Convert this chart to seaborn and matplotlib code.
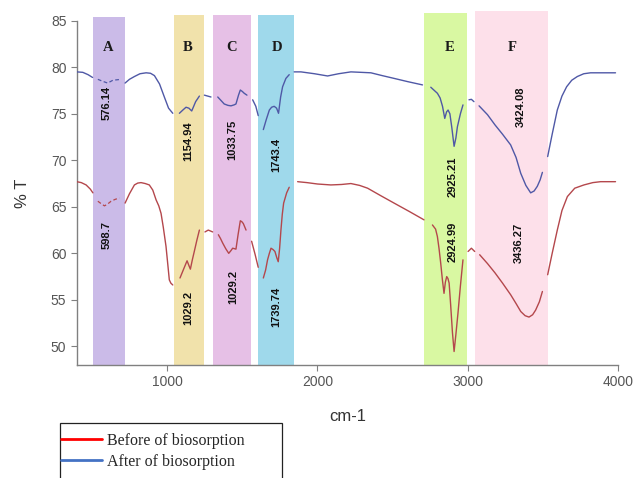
import numpy as np
import pandas as pd
import matplotlib
matplotlib.use("Agg")
import matplotlib.pyplot as plt
from matplotlib.lines import Line2D
from matplotlib.patches import Rectangle
import seaborn as sns

# -------------------- Data --------------------
nan = np.nan

# After biosorption (blue trace); nan marks a break in the trace
after_wn = [400, 440, 475, 505, nan,
            540, 570, 605, 640, 695, nan,
            721, 750, 783, 820, 861, 890, 916, 950, 982, 1010, 1038, nan,
            1082, 1105, 1126, 1145, 1164, 1190, 1215, nan,
            1248, 1270, 1292, nan,
            1337, 1360, 1380, 1405, 1425, 1445, 1458, 1475, 1487, 1500, 1513, 1531, nan,
            1569, 1590, 1606, nan,
            1640, 1660, 1680, 1695, 1712, 1728, 1741, 1755, 1768, 1790, 1812, nan,
            1845, 1890, 1980, 2067, 2140, 2222, 2290, 2355, 2430, 2509, 2600, 2698, nan,
            2753, 2797, 2815, 2831, 2846, 2858, 2868, 2880, 2893, 2908, 2920, 2930, 2950, 2967, nan,
            3007, 3023, 3040, nan,
            3074, 3130, 3180, 3230, 3284, 3320, 3351, 3385, 3417, 3440, 3461, 3480, 3495, nan,
            3530, 3560, 3594, 3625, 3656, 3690, 3727, 3770, 3815, 3900, 3981]
after_t = [79.5, 79.45, 79.2, 78.9, nan,
           78.7, 78.5, 78.3, 78.6, 78.7, nan,
           78.3, 78.7, 79.0, 79.3, 79.4, 79.35, 79.1, 78.2, 76.8, 75.6, 75.05, nan,
           75.05, 75.4, 75.7, 75.6, 75.3, 76.3, 76.9, nan,
           77.0, 76.9, 76.8, nan,
           76.8, 76.4, 76.05, 75.9, 75.85, 75.95, 76.05, 77.0, 77.55, 77.4, 77.2, 77.0, nan,
           76.5, 75.8, 74.8, nan,
           73.3, 74.4, 75.4, 75.7, 75.8, 75.6, 75.05, 76.8, 77.9, 78.8, 79.2, nan,
           79.5, 79.5, 79.3, 79.06, 79.3, 79.5, 79.45, 79.4, 79.1, 78.8, 78.45, 78.1, nan,
           77.85, 77.2, 76.7, 75.8, 74.5, 75.2, 75.4, 75.0, 73.5, 71.5, 72.4, 73.6, 75.0, 75.95, nan,
           76.5, 76.55, 76.3, nan,
           75.85, 74.9, 73.8, 72.8, 71.65, 70.3, 68.6, 67.3, 66.5, 66.7, 67.2, 67.9, 68.7, nan,
           70.4, 72.8, 75.4, 76.9, 77.9, 78.6, 79.0, 79.3, 79.4, 79.4, 79.4]

# Before biosorption (red trace)
before_wn = [400, 430, 462, 490, 507, nan,
             540, 565, 584, 605, 628, 655, 683, nan,
             721, 750, 783, 805, 827, 855, 882, 905, 927, 945, 960, 975, 993, 1005, 1015, 1025, 1038, nan,
             1086, 1110, 1133, 1145, 1155, 1168, 1181, 1198, 1215, nan,
             1252, 1274, 1303, nan,
             1341, 1355, 1370, 1390, 1410, 1425, 1436, 1448, 1458, 1472, 1487, 1497, 1507, 1525, nan,
             1562, 1585, 1606, nan,
             1640, 1655, 1668, 1680, 1691, 1705, 1717, 1730, 1739, 1748, 1757, 1766, 1775, 1795, 1812, nan,
             1868, 1930, 2000, 2089, 2160, 2222, 2280, 2333, 2420, 2509, 2610, 2708, nan,
             2764, 2785, 2797, 2808, 2819, 2830, 2841, 2850, 2859, 2867, 2875, 2885, 2897, 2908, 2920, 2934, 2950, 2967, nan,
             3001, 3023, 3045, nan,
             3078, 3130, 3180, 3230, 3284, 3320, 3351, 3380, 3406, 3430, 3450, 3475, 3495, nan,
             3530, 3560, 3594, 3625, 3661, 3710, 3771, 3830, 3882, 3981]
before_t = [67.7, 67.6, 67.35, 66.9, 66.5, nan,
            65.6, 65.3, 65.1, 65.3, 65.6, 65.8, 65.95, nan,
            65.4, 66.4, 67.35, 67.55, 67.6, 67.5, 67.35, 66.8, 65.75, 65.1, 64.3, 62.8, 60.75, 58.8, 57.15, 56.8, 56.6, nan,
            57.35, 58.3, 59.2, 58.7, 58.3, 59.3, 60.2, 61.4, 62.5, nan,
            62.3, 62.5, 62.3, nan,
            62.0, 61.6, 61.1, 60.5, 60.0, 60.3, 60.55, 60.5, 60.45, 62.0, 63.5, 63.4, 63.2, 62.5, nan,
            61.3, 59.9, 58.5, nan,
            57.35, 58.2, 59.3, 60.0, 60.55, 60.4, 60.2, 59.5, 59.1, 60.5, 62.5, 64.2, 65.4, 66.5, 67.1, nan,
            67.7, 67.6, 67.45, 67.35, 67.4, 67.5, 67.3, 67.0, 66.2, 65.4, 64.5, 63.6, nan,
            63.05, 62.6, 61.8, 60.5, 58.95, 57.2, 55.7, 56.9, 57.5, 57.3, 56.8, 54.5, 51.5, 49.45, 51.3, 53.6, 56.5, 59.3, nan,
            60.2, 60.55, 60.2, nan,
            59.85, 58.9, 57.9, 56.8, 55.55, 54.6, 53.75, 53.3, 53.15, 53.4, 53.9, 54.8, 55.9, nan,
            57.7, 60.0, 62.5, 64.6, 66.1, 67.0, 67.35, 67.6, 67.7, 67.7]

# Highlighted regions
band_letters = ["A", "B", "C", "D", "E", "F"]
band_start = [510, 1044, 1305, 1604, 2708, 3045]
band_end = [720, 1244, 1558, 1843, 2997, 3530]
band_top = [85.4, 85.6, 85.6, 85.6, 85.8, 86.0]
band_colors = ["#cbbbe8", "#f1e2ab", "#e6c0e6", "#9fd9eb", "#d9f8a2", "#fde0ea"]
letter_x = [608, 1139, 1432, 1730, 2875, 3295]

# Peak annotations
after_peaks = ["576.14", "1154.94", "1033.75", "1743.4", "2925.21", "3424.08"]
after_peak_x = [595, 1139, 1432, 1724, 2897, 3351]
after_peak_y = [76.2, 72.0, 72.2, 70.6, 68.25, 75.7]
before_peaks = ["598.7", "1029.2", "1029.2", "1739.74", "2924.99", "3436.27"]
before_peak_x = [595, 1139, 1438, 1724, 2897, 3339]
before_peak_y = [62.0, 54.1, 56.4, 54.3, 61.27, 61.13]

x_ticks = [1000, 2000, 3000, 4000]
y_ticks = [50, 55, 60, 65, 70, 75, 80, 85]


def to_frame(wn, t, name):
    wn = np.array(wn, dtype=float)
    seg = np.cumsum(np.isnan(wn))
    d = pd.DataFrame({"wn": wn, "T": np.array(t, dtype=float), "seg": seg})
    d = d.dropna()
    d["series"] = name
    return d


df = pd.concat([to_frame(after_wn, after_t, "after"),
                to_frame(before_wn, before_t, "before")], ignore_index=True)
# segments that sit inside band A are drawn dashed
seg_max = df.groupby(["series", "seg"])["wn"].transform("max")
seg_min = df.groupby(["series", "seg"])["wn"].transform("min")
in_a = (seg_min >= band_start[0]) & (seg_max <= band_end[0])
df["key"] = df["series"] + df["seg"].astype(str)

# -------------------- Plotting --------------------
sns.set_style("white")
plt.rcParams["font.family"] = ["Liberation Sans", "DejaVu Sans"]

fig = plt.figure(figsize=(6.41, 4.78), dpi=100)
ax = fig.add_axes([0.1198, 0.2364, 0.8449, 0.7203])

ylo, yhi = 48, 85
for s, e, top, c in zip(band_start, band_end, band_top, band_colors):
    ax.axvspan(s, e, ymin=0, ymax=(top - ylo) / (yhi - ylo), color=c, lw=0, zorder=0, clip_on=False)

palette = {"after": "#4f58a6", "before": "#b4474c"}
sns.lineplot(data=df[~in_a], x="wn", y="T", hue="series", units="key", estimator=None,
             sort=False, palette=palette, lw=1.0, legend=False, ax=ax, zorder=3)
sns.lineplot(data=df[in_a], x="wn", y="T", hue="series", units="key", estimator=None,
             sort=False, palette=palette, lw=0.9, legend=False, ax=ax, zorder=3,
             linestyle=(0, (3, 2)))

for lx, lab in zip(letter_x, band_letters):
    ax.text(lx, 82.1, lab, ha="center", va="center", fontsize=10.5, fontweight="bold",
            family=["Liberation Serif", "DejaVu Serif"], color="#1a1a1a", zorder=4)

for lab, px, py in zip(after_peaks + before_peaks, after_peak_x + before_peak_x,
                       after_peak_y + before_peak_y):
    ax.text(px, py, lab, rotation=90, ha="center", va="center", fontsize=8,
            fontweight="bold", color="#111111", zorder=4)

ax.set_xlim(400, 4000)
ax.set_ylim(ylo, yhi)
ax.set_xticks(x_ticks)
ax.set_yticks(y_ticks)
ax.tick_params(axis="both", direction="out", length=4.5, width=0.8, color="#808080",
               labelsize=10, labelcolor="#555555", pad=3, bottom=True, left=True)
for side in ["top", "right"]:
    ax.spines[side].set_visible(False)
for side in ["left", "bottom"]:
    ax.spines[side].set_color("#808080")
    ax.spines[side].set_linewidth(1.0)

ax.set_xlabel("cm-1", fontsize=12, color="#333333")
ax.set_ylabel("% T", fontsize=12, color="#333333")
ax.xaxis.set_label_coords(0.5, -0.128)
ax.yaxis.set_label_coords(-0.086, 0.5)

# legend below the plot, boxed
handles = [Line2D([], [], color="#ff0000", lw=2), Line2D([], [], color="#4472c4", lw=2)]
fig.legend(handles, ["Before of biosorption", "After of biosorption"],
           loc="upper left", bbox_to_anchor=(0.095, 0.094), frameon=False,
           prop={"family": ["Liberation Serif", "DejaVu Serif"], "size": 11.5},
           handlelength=2.6, handletextpad=0.3, labelspacing=0.28, borderpad=0,
           borderaxespad=0)
fig.patches.append(Rectangle((60 / 641, -0.05), 222 / 641, 0.05 + (478 - 422.7) / 478,
                             transform=fig.transFigure, fill=False, edgecolor="#222222",
                             lw=0.9, figure=fig))

fig.savefig("out.png", dpi=100)
